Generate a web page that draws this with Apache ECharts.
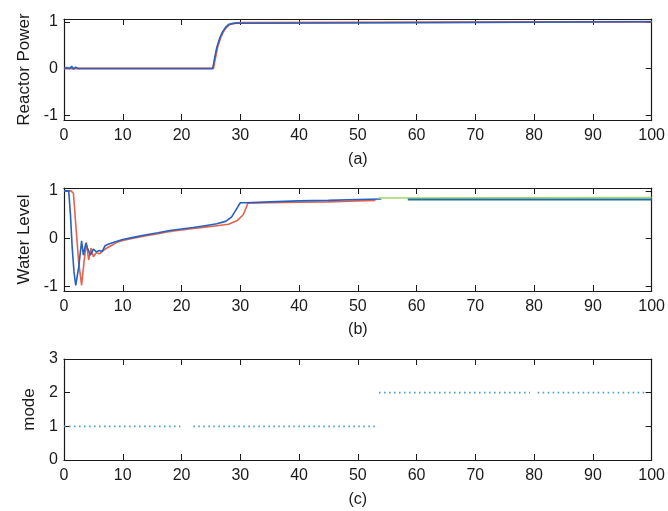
<!DOCTYPE html>
<html>
<head>
<meta charset="utf-8">
<script src="https://cdn.jsdelivr.net/npm/echarts@6/dist/echarts.min.js"></script>
<style>
  html, body { margin: 0; padding: 0; background: #fff; }
  #chart { width: 668px; height: 511px; }
</style>
</head>
<body>
<div id="chart"></div>
<script>
// Time axis ticks shared by all three panels
const timeTicks = [0, 10, 20, 30, 40, 50, 60, 70, 80, 90, 100];
const levelTicks = [-1, 0, 1];
const modeTicks = [0, 1, 2, 3];

// (a) Reactor power, two controller runs
const powerBlueX = [0, 0.5, 1.0, 1.3, 1.6, 2.0, 2.4, 25.3, 25.6, 26, 26.5, 27, 27.5, 28, 28.5, 29, 29.9, 30, 100];
const powerBlueY = [0, 0.02, 0.0, 0.05, -0.01, 0.03, 0, 0, 0.2, 0.45, 0.65, 0.79, 0.88, 0.94, 0.96, 0.97, 0.97, 1.0, 1.0];
const powerRedX = [0, 25.4, 25.7, 26.1, 26.6, 27.1, 27.6, 28.1, 28.6, 29.1, 29.9, 30, 100];
const powerRedY = [0, 0, 0.2, 0.45, 0.65, 0.79, 0.88, 0.94, 0.96, 0.97, 0.98, 1.0, 1.0];

// (b) Water level
const levelBlueX = [0, 0.8, 1.1, 1.4, 1.7, 2.0, 2.5, 3.0, 3.3, 3.7, 4.0, 4.5, 5.0, 5.5, 6.0, 6.5, 7.0, 7.5, 8.5, 10, 12, 14, 16, 18, 20, 22, 24, 26, 27.5, 28.5, 29.5, 30, 31, 35, 40, 45, 50, 54];
const levelBlueY = [1, 1, 0.5, -0.2, -0.7, -0.98, -0.6, -0.05, -0.35, -0.1, -0.2, -0.35, -0.22, -0.28, -0.25, -0.27, -0.15, -0.12, -0.08, -0.02, 0.03, 0.08, 0.12, 0.17, 0.2, 0.23, 0.27, 0.31, 0.36, 0.45, 0.65, 0.75, 0.75, 0.77, 0.79, 0.8, 0.82, 0.83];
const levelRedX = [0, 1.2, 1.6, 2.0, 2.5, 3.0, 3.4, 3.8, 4.2, 4.6, 5.0, 5.5, 6, 7, 8, 9, 10, 12, 14, 16, 18, 20, 22, 24, 26, 28, 29.5, 30.5, 31.3, 35, 40, 45, 50, 53];
const levelRedY = [1, 1, 0.95, 0.3, -0.5, -0.98, -0.5, -0.08, -0.45, -0.2, -0.38, -0.3, -0.32, -0.22, -0.15, -0.08, -0.04, 0.01, 0.06, 0.1, 0.15, 0.18, 0.21, 0.24, 0.27, 0.3, 0.38, 0.5, 0.74, 0.75, 0.76, 0.77, 0.79, 0.8];
const levelGreenX = [53.5, 100];
const levelGreenY = [0.85, 0.86];
const levelTealX = [58.5, 100];
const levelTealY = [0.82, 0.82];

// (c) Operating mode (null = no sample)
const modeX = [0, 19.8, 20.9, 22, 53.2, 53.4, 53.6, 79.3, 79.9, 80.6, 99];
const modeY = [1, 1, null, 1, 1, null, 2, 2, null, 2, 2];

const zip = (xs, ys) => xs.map((x, i) => [x, ys[i]]);

const textColor = '#1a1a1a';
const frameColor = '#1a1a1a';
const fontFamily = 'Liberation Sans, Arial, sans-serif';

const grids = [
  { left: 64, right: 16, top: 19, height: 101 },
  { left: 64, right: 16, top: 188, height: 103 },
  { left: 64, right: 16, top: 359, height: 101 }
];
const subLabels = ['(a)', '(b)', '(c)'];
const subGaps = [32, 31, 32];
const yNames = ['Reactor Power', 'Water Level', 'mode'];
const yGaps = [26, 27, 22];

const xAxes = [];
const yAxes = [];
grids.forEach((g, i) => {
  // bottom axis with labels
  xAxes.push({
    type: 'value', gridIndex: i, position: 'bottom', min: 0, max: 100, interval: 10,
    name: subLabels[i], nameLocation: 'middle', nameGap: subGaps[i],
    nameTextStyle: { color: textColor, fontSize: 16, fontFamily },
    axisLine: { show: true, onZero: false, lineStyle: { color: frameColor, width: 1.2 } },
    axisTick: { show: true, inside: true, length: 6, lineStyle: { color: frameColor } },
    axisLabel: { color: textColor, fontSize: 16, fontFamily, margin: 8,
      formatter: v => timeTicks.includes(v) ? String(v) : '' },
    splitLine: { show: false }
  });
  // top mirror axis, ticks only
  xAxes.push({
    type: 'value', gridIndex: i, position: 'top', min: 0, max: 100, interval: 10,
    axisLine: { show: true, onZero: false, lineStyle: { color: frameColor, width: 1.2 } },
    axisTick: { show: true, inside: true, length: 6, lineStyle: { color: frameColor } },
    axisLabel: { show: false },
    splitLine: { show: false }
  });
  const isMode = i === 2;
  const ticks = isMode ? modeTicks : levelTicks;
  const yBase = isMode
    ? { min: 0, max: 3, interval: 1 }
    : { min: -1.1, max: 1.06 };
  yAxes.push(Object.assign({
    type: 'value', gridIndex: i, position: 'left',
    name: yNames[i], nameLocation: 'middle', nameGap: yGaps[i], nameRotate: 90,
    nameTextStyle: { color: textColor, fontSize: 17, fontFamily },
    axisLine: { show: true, onZero: false, lineStyle: { color: frameColor, width: 1.2 } },
    axisTick: { show: true, inside: true, length: 6, customValues: ticks, lineStyle: { color: frameColor } },
    axisLabel: { color: textColor, fontSize: 16, fontFamily, margin: 6, customValues: ticks },
    splitLine: { show: false }
  }, yBase));
  yAxes.push(Object.assign({
    type: 'value', gridIndex: i, position: 'right',
    axisLine: { show: true, onZero: false, lineStyle: { color: frameColor, width: 1.2 } },
    axisTick: { show: true, inside: true, length: 6, customValues: ticks, lineStyle: { color: frameColor } },
    axisLabel: { show: false, customValues: ticks },
    splitLine: { show: false }
  }, yBase));
});

const lineSeries = (xs, ys, color, grid, width, extra) => Object.assign({
  type: 'line', xAxisIndex: grid * 2, yAxisIndex: grid * 2,
  data: zip(xs, ys), showSymbol: false, symbol: 'none', animation: false,
  lineStyle: { color, width }, connectNulls: false, z: 3
}, extra || {});

const red = '#e5634c';
const blue = '#2461c2';

const option = {
  backgroundColor: '#ffffff',
  animation: false,
  grid: grids,
  xAxis: xAxes,
  yAxis: yAxes,
  series: [
    lineSeries(powerRedX, powerRedY, red, 0, 2),
    lineSeries(powerBlueX, powerBlueY, blue, 0, 1.6),
    lineSeries(levelRedX, levelRedY, red, 1, 1.6),
    lineSeries(levelBlueX, levelBlueY, blue, 1, 1.6),
    lineSeries(levelGreenX, levelGreenY, '#9fd86a', 1, 1.6),
    lineSeries(levelTealX, levelTealY, '#1f6f9a', 1, 2),
    lineSeries(modeX, modeY, '#4aa3cc', 2, 1.6, {
      lineStyle: { color: '#4aa3cc', width: 1.6, type: [1.6, 3.4] }
    })
  ]
};

const chart = echarts.init(document.getElementById('chart'), null, { renderer: 'canvas' });
chart.setOption(option);
</script>
</body>
</html>
